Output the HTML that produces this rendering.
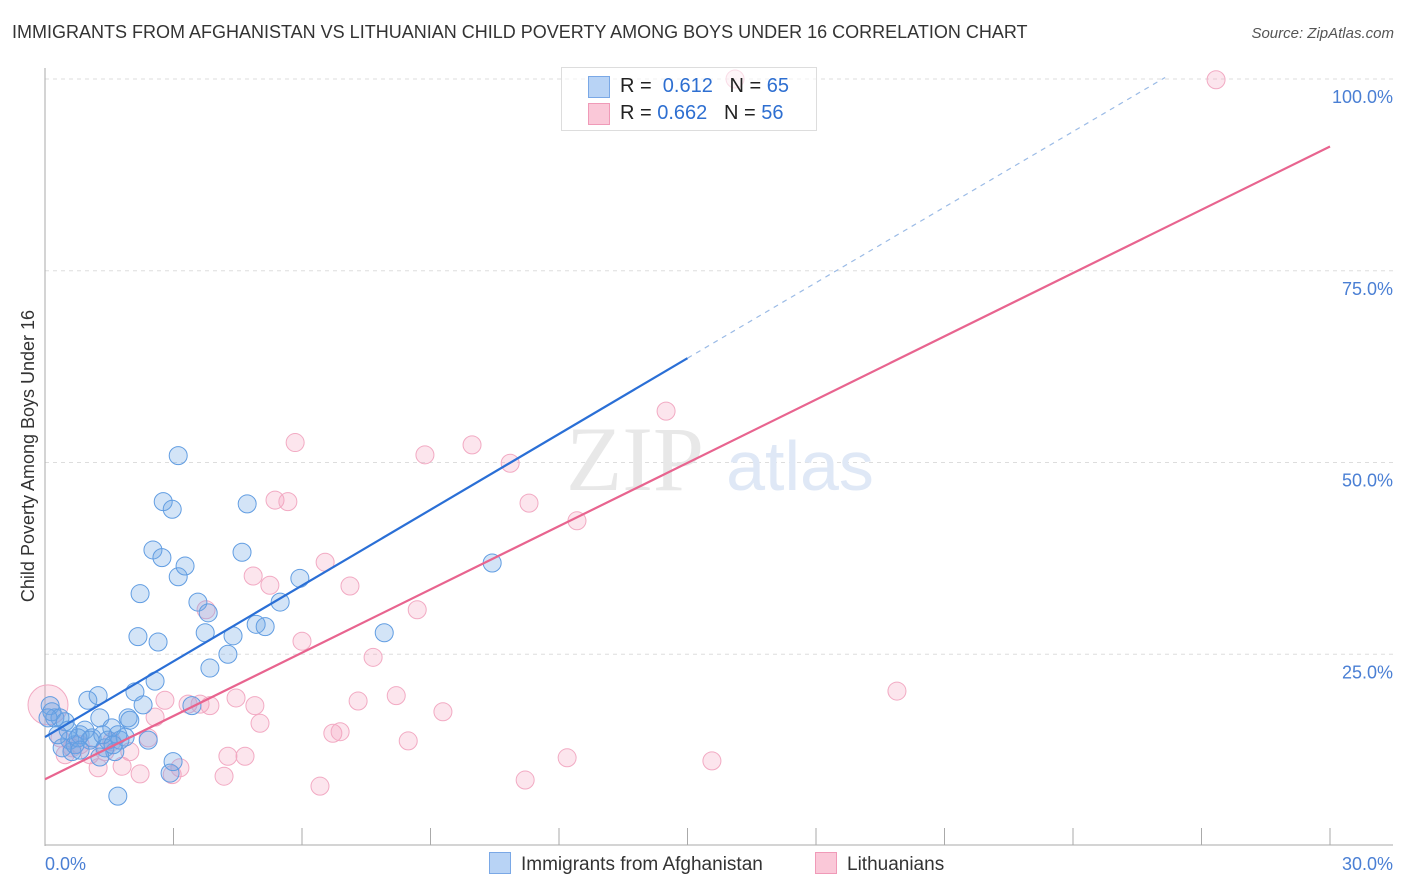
<!DOCTYPE html>
<html><head><meta charset="utf-8"><style>
body{margin:0;background:#fff;font-family:"Liberation Sans",sans-serif;}
#wrap{position:relative;width:1406px;height:892px;overflow:hidden;}
.t{position:absolute;white-space:nowrap;}
</style></head><body>
<div id="wrap">
<div class="t" style="left:12px;top:22px;font-size:18px;color:#333;">IMMIGRANTS FROM AFGHANISTAN VS LITHUANIAN CHILD POVERTY AMONG BOYS UNDER 16 CORRELATION CHART</div>
<div class="t" style="right:12px;top:25px;font-size:15px;color:#555;font-style:italic;">Source: ZipAtlas.com</div>
<svg id="svg" width="1406" height="892" style="position:absolute;left:0;top:0"></svg>
</div>
<script>
const xTicks=[0,3,6,9,12,15,18,21,24,27,30];
const yTicks=[25,50,75,100];
const blueX=[0.12,0.23,0.16,0.35,0.47,0.58,0.63,0.70,0.82,0.93,1.00,1.10,1.24,1.28,1.40,1.47,1.56,1.63,1.70,1.75,1.87,1.94,2.10,2.17,2.22,2.29,2.41,2.52,2.57,2.64,2.73,2.76,2.97,3.11,3.11,3.27,3.43,3.57,3.74,3.81,3.85,4.27,4.39,4.60,4.72,4.93,5.14,5.49,5.95,7.92,10.44,2.92,2.99,1.70,1.05,0.77,0.40,0.54,0.30,1.35,1.98,0.07,1.28,0.82,1.59];
const blueY=[18.3,16.7,17.5,16.7,16.2,13.8,12.3,13.2,14.5,15.1,19.0,14.1,19.6,16.7,12.8,13.8,15.4,12.3,6.5,13.8,14.2,16.7,20.1,27.3,32.9,18.4,13.8,38.6,21.5,26.6,37.6,44.9,43.9,50.9,35.1,36.5,18.3,31.8,27.8,30.4,23.2,25.0,27.4,38.3,44.6,28.9,28.6,31.8,34.9,27.8,36.9,9.5,11.0,14.5,13.8,14.1,12.8,15.1,14.5,14.5,16.4,16.7,11.6,12.5,13.2];
const pinkX=[0.07,0.35,0.47,0.63,0.82,1.05,1.24,1.40,1.56,1.80,1.98,2.22,2.41,2.57,2.80,2.97,3.15,3.34,3.62,3.76,3.85,4.18,4.27,4.46,4.67,4.86,5.02,5.25,5.37,5.67,5.84,6.00,6.42,6.54,6.72,6.89,7.12,7.31,7.66,8.20,8.48,8.69,8.87,9.29,9.97,10.86,11.21,11.30,12.19,12.42,14.50,15.57,19.89,27.34,16.11,4.90];
const pinkY=[18.4,14.1,11.9,12.8,13.2,11.9,10.2,12.3,13.6,10.4,12.3,9.4,14.1,16.8,19.0,9.3,10.2,18.5,18.5,30.8,18.3,9.1,11.7,19.3,11.7,35.2,16.0,34.0,45.1,44.9,52.6,26.7,7.8,37.0,14.7,14.9,33.9,18.9,24.6,19.6,13.7,30.8,51.0,17.5,52.3,49.9,8.6,44.7,11.5,42.4,56.7,11.1,20.2,99.9,100.0,18.3];
const blueTrend=[14.2,63.6,100.2];
const blueTrendX=[0,15,26.15];
const pinkTrend=[8.7,91.2];
const pinkTrendX=[0,30];

const NS='http://www.w3.org/2000/svg';
const svg=document.getElementById('svg');
const X=v=>45+v/30*1285;
const Y=v=>846-v/100*767;
function mk(tag,at){const e=document.createElementNS(NS,tag);for(const k in at)e.setAttribute(k,at[k]);svg.appendChild(e);return e;}
yTicks.forEach(t=>{
 const g=mk('line',{x1:45,x2:1393,y1:Y(t),y2:Y(t),stroke:'#ddd','stroke-dasharray':'4,4'});
 
 
 const l=mk('text',{x:1393,y:Y(t)+24,'text-anchor':'end','font-size':18,fill:'#4a7fd4'});
 l.textContent=t.toFixed(1)+'%';
 
 
});
let a=mk('line',{x1:45,x2:45,y1:68,y2:846,stroke:'#aaa'});


a=mk('line',{x1:45,x2:1393,y1:845,y2:845,stroke:'#aaa'});


xTicks.forEach(t=>{
 const k=mk('line',{x1:X(t),x2:X(t),y1:828,y2:845,stroke:'#aaa'});
 
 
});
[[0,'start',45],[30,'end',1393]].forEach(([v,anc,px])=>{
 const l=mk('text',{x:px,y:870,'text-anchor':anc,'font-size':18,fill:'#4a7fd4'});
 l.textContent=v.toFixed(1)+'%';
 
 
});
let yt=mk('text',{x:34,y:456,'text-anchor':'middle','font-size':18,fill:'#333',transform:'rotate(-90 34 456)'});
yt.textContent='Child Poverty Among Boys Under 16';


let w=mk('text',{x:635,y:490,'text-anchor':'middle','font-size':92,fill:'#e8e8e8','font-family':'Liberation Serif, serif'});
w.textContent='ZIP';


w=mk('text',{x:800,y:490,'text-anchor':'middle','font-size':70,fill:'#dfe8f6'});
w.textContent='atlas';


pinkX.forEach((x,i)=>{
 const c=mk('circle',{cx:X(x),cy:Y(pinkY[i]),r:i===0?20:9,fill:'rgba(244,160,190,0.28)',stroke:'#f2aac3','stroke-width':1});
 
 
});
blueX.forEach((x,i)=>{
 const c=mk('circle',{cx:X(x),cy:Y(blueY[i]),r:9,fill:'rgba(110,165,230,0.3)',stroke:'#619de2','stroke-width':1});
 
 
});
let tl=mk('line',{x1:X(blueTrendX[0]),y1:Y(blueTrend[0]),x2:X(blueTrendX[1]),y2:Y(blueTrend[1]),stroke:'#2a6fd6','stroke-width':2.2});


tl=mk('line',{x1:X(blueTrendX[1]),y1:Y(blueTrend[1]),x2:X(blueTrendX[2]),y2:Y(blueTrend[2]),stroke:'#9bbbe6','stroke-width':1.2,'stroke-dasharray':'5,5'});


tl=mk('line',{x1:X(pinkTrendX[0]),y1:Y(pinkTrend[0]),x2:X(pinkTrendX[1]),y2:Y(pinkTrend[1]),stroke:'#e8648f','stroke-width':2.2});


</script>
<div class="t" style="left:561px;top:67px;width:254px;height:62px;border:1px solid #ddd;background:rgba(255,255,255,0.6);font-size:20px;color:#222;">
 <div style="position:absolute;left:26px;top:8px;width:20px;height:20px;background:#b8d3f5;border:1px solid #7aa8e6;"></div>
 <div class="t" style="left:58px;top:7px;">R = &nbsp;<span style="color:#2e6fd1">0.612</span>&nbsp;&nbsp; N = <span style="color:#2e6fd1">65</span></div>
 <div style="position:absolute;left:26px;top:35px;width:20px;height:20px;background:#fac8d8;border:1px solid #f09ab8;"></div>
 <div class="t" style="left:58px;top:34px;">R = <span style="color:#2e6fd1">0.662</span>&nbsp;&nbsp; N = <span style="color:#2e6fd1">56</span></div>
</div>
<div class="t" style="left:489px;top:852px;font-size:19px;color:#333;"><span style="display:inline-block;width:20px;height:20px;background:#b8d3f5;border:1px solid #7aa8e6;vertical-align:-4px;margin-right:10px;"></span>Immigrants from Afghanistan</div>
<div class="t" style="left:815px;top:852px;font-size:19px;color:#333;"><span style="display:inline-block;width:20px;height:20px;background:#fac8d8;border:1px solid #f09ab8;vertical-align:-4px;margin-right:10px;"></span>Lithuanians</div>
</body></html>
